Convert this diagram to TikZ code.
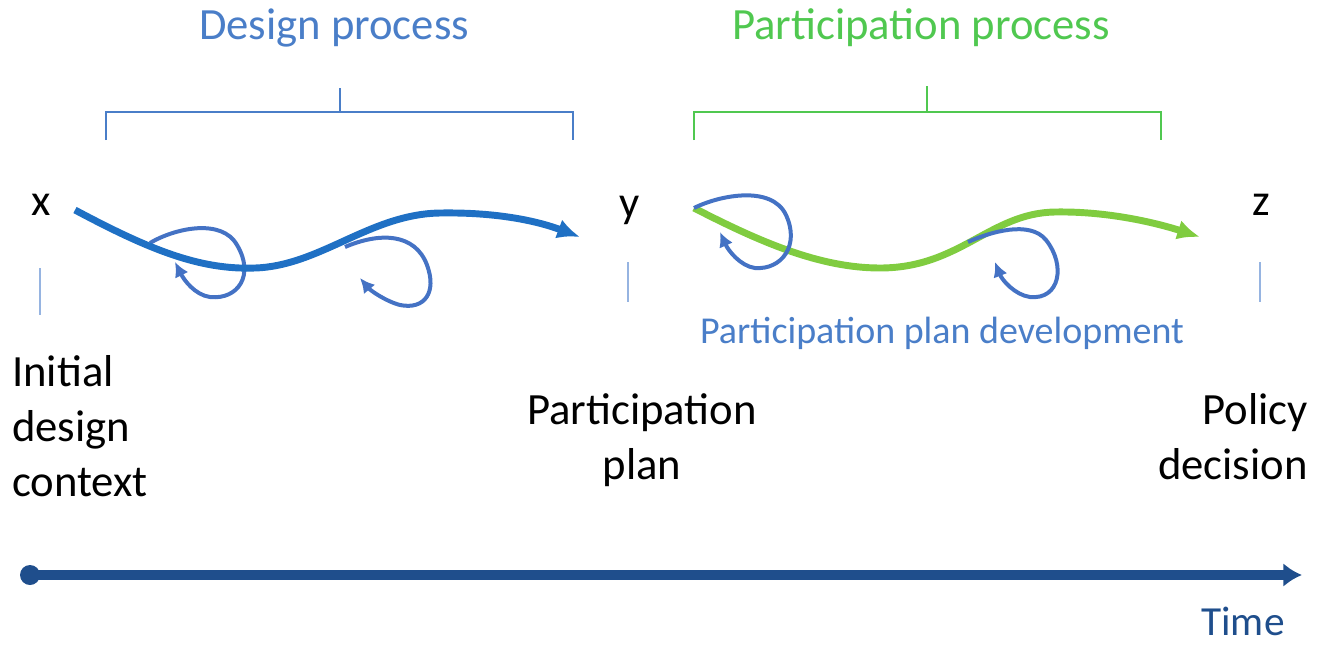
\documentclass[tikz,border=0pt]{standalone}
\usepackage{fontspec}
\setmainfont{Carlito}
\usetikzlibrary{arrows.meta}
\definecolor{dblue}{RGB}{74,126,200}
\definecolor{pgreen}{RGB}{80,200,80}
\definecolor{cblue}{RGB}{31,112,196}
\definecolor{lblue}{RGB}{68,114,196}
\definecolor{cgreen}{RGB}{128,204,64}
\definecolor{navy}{RGB}{31,78,140}
\definecolor{tick}{RGB}{150,180,225}
\begin{document}
\begin{tikzpicture}[x=0.75pt,y=-0.75pt,
  big/.style={font=\fontsize{33.5}{41.5}\selectfont,text=black,inner sep=0pt},
  head/.style={font=\fontsize{33.5}{41}\selectfont,inner sep=0pt},
  sub/.style={font=\fontsize{28.5}{34}\selectfont,text=dblue,inner sep=0pt},
  bracketd/.style={draw=dblue,line width=1.5pt},
  bracketp/.style={draw=pgreen,line width=1.5pt},
  ticks/.style={draw=tick,line width=1.5pt},
  maincurve/.style={line width=5.2pt,-{Latex[length=17pt,width=15pt]}},
  loop/.style={draw=lblue,line width=3pt,-{Latex[length=11pt,width=11pt]}}]
\useasboundingbox (0,0) rectangle (1322,644);
% titles
\node[head,text=dblue] (dp) at (334,28) {Design process};
\node[head,text=pgreen] (pp) at (921,28) {Participation process};
% brackets
\draw[bracketd] (106,140) -- (106,112) -- (573,112) -- (573,140);
\draw[bracketd] (340,88) -- (340,112);
\draw[bracketp] (694,140) -- (694,112) -- (1161,112) -- (1161,140);
\draw[bracketp] (927,86) -- (927,112);
% letters
\node[big] (x) at (41,205) {x};
\node[big] (y) at (630,210) {y};
\node[big] (z) at (1261,205) {z};
% ticks
\draw[ticks] (40,268) -- (40,315);
\draw[ticks] (628,262) -- (628,302);
\draw[ticks] (1260,262) -- (1260,302);
% design loops
\draw[loop] (150,243) .. controls (175,228) and (222,218) .. (237,245) .. controls (255,275) and (238,300) .. (210,297) .. controls (195,295) and (184,280) .. (175,262);
\draw[loop] (345,247) .. controls (380,232) and (415,233) .. (427,265) .. controls (437,292) and (425,310) .. (400,305) .. controls (385,301) and (370,290) .. (360,278);
% design curve
\coordinate (ds) at (75,210);
\coordinate (de) at (580,237);
\draw[cblue,maincurve] (ds) .. controls (150,250) and (200,270) .. (255,268) .. controls (320,266) and (370,214) .. (440,213) .. controls (500,212) and (540,222) .. (de);
% participation curve
\coordinate (ps) at (694,208);
\coordinate (pe) at (1200,237);
\draw[cgreen,maincurve] (ps) .. controls (760,242) and (820,268) .. (880,268) .. controls (960,268) and (990,213) .. (1055,212) .. controls (1110,211) and (1160,224) .. (pe);
% participation loops
\draw[loop] (ps) .. controls (720,195) and (772,185) .. (786,215) .. controls (800,245) and (782,270) .. (755,268) .. controls (740,266) and (728,250) .. (720,232);
\draw[loop] (968,242) .. controls (990,232) and (1030,220) .. (1046,240) .. controls (1066,265) and (1060,300) .. (1030,297) .. controls (1015,295) and (1002,280) .. (995,262);
\node[sub] (ppd) at (942,333) {Participation plan development};
% bottom labels
\node[big,anchor=north west,align=left] (idc) at (12,355) {Initial\\design\\context};
\node[big,anchor=north,align=center] (pl) at (642,393) {Participation\\plan};
\node[big,anchor=north east,align=right] (pd) at (1308,393) {Policy\\decision};
% time axis
\fill[navy] (30,575) circle (7.5pt);
\coordinate (ta) at (30,575);
\coordinate (tb) at (1302,575);
\draw[navy,line width=7pt,-{Latex[length=14pt,width=18pt]}] (ta) -- (tb);
\node[big,text=navy,font=\fontsize{31}{36}\selectfont] (time) at (1243,621) {Time};
\end{tikzpicture}
\end{document}
